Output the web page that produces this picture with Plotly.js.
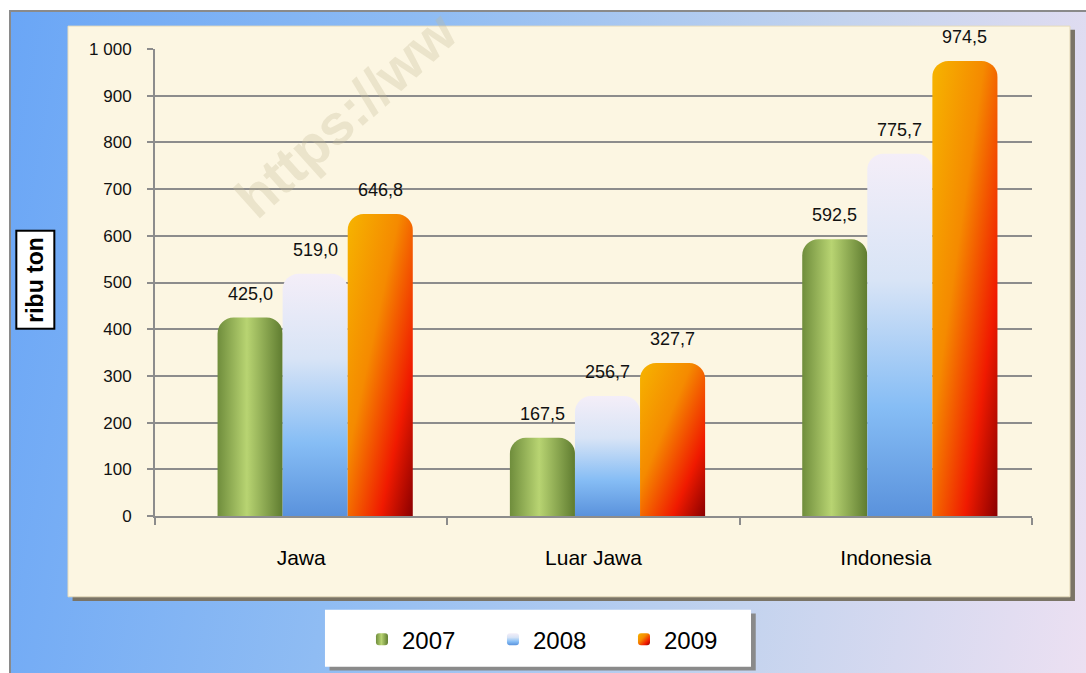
<!DOCTYPE html>
<html>
<head>
<meta charset="utf-8">
<script src="https://cdn.plot.ly/plotly-3.0.1.min.js"></script>
<style>
    html, body { margin: 0; padding: 0; background: #ffffff; }
    #frame {
        position: absolute; left: 9px; top: 10px; width: 1077px; height: 663px;
        border-left: 2px solid #8a8a8a; border-top: 2px solid #8a8a8a; box-sizing: border-box;
        background: linear-gradient(100deg, #6aa6f6 0%, #8fbcf3 35%, #c3d3ee 70%, #ece0f2 100%);
    }
    #chart { position: absolute; left: 0; top: 0; width: 1086px; height: 673px; }
</style>
</head>
<body>
<div id="frame"></div>
<div id="chart"></div>
<script>
const REGIONS = ['Jawa', 'Luar Jawa', 'Indonesia'];
const YEARS = ['2007', '2008', '2009'];
const VALUES_2007 = [425.0, 167.5, 592.5];
const VALUES_2008 = [519.0, 256.7, 775.7];
const VALUES_2009 = [646.8, 327.7, 974.5];
const Y_TICKS = [0, 100, 200, 300, 400, 500, 600, 700, 800, 900, 1000];

const SERIES = [VALUES_2007, VALUES_2008, VALUES_2009];
const COLORS = ['#93b55a', '#8fbcef', '#f0620e'];
// the bar groups in the original sit a little right of the category centre
const BAR_WIDTH = 0.2226;
const GROUP_START = -0.286;
const PX_PER_CATEGORY = 292;
const GRADIENTS = [
    { id: 'g2007', x2: 1, y2: 0, stops: [['0', '#6f8d3c'], ['0.45', '#b8d472'], ['1', '#5f7c30']] },
    { id: 'g2008', x2: 0, y2: 1, stops: [['0', '#f4eef8'], ['0.35', '#d8e4f6'], ['0.7', '#86bdf5'], ['1', '#5a92dc']] },
    { id: 'g2009', x2: 1, y2: 1, stops: [['0', '#f6b400'], ['0.4', '#f58a00'], ['0.75', '#f01a00'], ['1', '#8a0000']] },
];

const traces = SERIES.map((values, index) => ({
    type: 'bar',
    name: YEARS[index],
    x: REGIONS,
    y: values,
    width: BAR_WIDTH,
    offset: GROUP_START + index * BAR_WIDTH,
    marker: { color: COLORS[index], cornerradius: 16, line: { width: 0 } },
    hovertemplate: '%{x} ' + YEARS[index] + ': %{y:.1f}<extra></extra>',
}));

function formatValue(value) {
    return value.toFixed(1).replace('.', ',');
}

const valueLabels = [];
SERIES.forEach((values, index) => {
    const centreShift = (GROUP_START + (index + 0.5) * BAR_WIDTH) * PX_PER_CATEGORY;
    values.forEach((value, regionIndex) => {
        valueLabels.push({
            text: formatValue(value),
            x: REGIONS[regionIndex],
            y: value,
            xref: 'x', yref: 'y',
            xanchor: 'center', yanchor: 'bottom',
            xshift: centreShift, yshift: 12,
            showarrow: false,
            font: { size: 18, color: '#111111' },
        });
    });
});

const layout = {
    width: 1086,
    height: 673,
    margin: { l: 155, r: 54, t: 49, b: 156 },
    paper_bgcolor: 'rgba(0,0,0,0)',
    plot_bgcolor: 'rgba(0,0,0,0)',
    separators: ', ',
    barmode: 'group',
    font: { family: 'Liberation Sans, Arial, sans-serif', color: '#111111' },
    showlegend: true,
    legend: {
        orientation: 'h',
        x: 0.236, xanchor: 'left',
        y: -0.262, yanchor: 'middle',
        bgcolor: 'rgba(0,0,0,0)',
        font: { size: 24, color: '#000000' },
        entrywidth: 86,
        itemwidth: 30,
        traceorder: 'normal',
    },
    xaxis: {
        type: 'category',
        tickson: 'boundaries',
        ticks: 'outside',
        ticklen: 7,
        tickcolor: '#8c8c8c',
        tickwidth: 2,
        showline: true,
        linecolor: '#8c8c8c',
        linewidth: 2,
        ticklabelstandoff: 22,
        tickfont: { size: 21, color: '#000000' },
        showgrid: false,
    },
    yaxis: {
        range: [0, 1000],
        tickvals: Y_TICKS,
        separatethousands: true,
        tickformat: ',d',
        ticks: 'outside',
        ticklen: 6,
        tickcolor: '#8c8c8c',
        tickwidth: 2,
        showline: true,
        linecolor: '#8c8c8c',
        linewidth: 2,
        gridcolor: '#8c8c8c',
        gridwidth: 2,
        zeroline: false,
        ticklabelstandoff: 12,
        tickfont: { size: 17, color: '#111111' },
    },
    shapes: [
        // cream inner panel with a soft shadow
        { type: 'rect', xref: 'paper', yref: 'paper', layer: 'below',
          x0: -0.094, x1: 1.049, y0: -0.182, y1: 1.041,
          fillcolor: '#7a7466', line: { width: 0 } },
        { type: 'rect', xref: 'paper', yref: 'paper', layer: 'below',
          x0: -0.0992, x1: 1.0433, y0: -0.173, y1: 1.049,
          fillcolor: '#fcf6e2', line: { color: '#e6dcbc', width: 1 } },
        // legend box with shadow
        { type: 'rect', xref: 'paper', yref: 'paper', layer: 'below',
          x0: 0.199, x1: 0.685, y0: -0.331, y1: -0.209,
          fillcolor: '#8a8a8a', line: { width: 0 } },
        { type: 'rect', xref: 'paper', yref: 'paper', layer: 'below',
          x0: 0.1938, x1: 0.6796, y0: -0.3226, y1: -0.2009,
          fillcolor: '#ffffff', line: { width: 0 } },
    ],
    annotations: [
        { text: '<b>ribu ton</b>', xref: 'paper', yref: 'paper',
          x: -0.1368, y: 0.506, xanchor: 'center', yanchor: 'middle',
          textangle: -90, showarrow: false,
          font: { size: 23, color: '#000000' },
          bgcolor: '#ffffff', bordercolor: '#000000', borderwidth: 2, borderpad: 5 },
        { text: '<b>https://ww</b>', xref: 'paper', yref: 'paper',
          x: 0.2178, y: 0.859, xanchor: 'center', yanchor: 'middle',
          textangle: -42, showarrow: false,
          font: { size: 56, color: 'rgba(196,184,148,0.3)' } },
        ...valueLabels,
    ],
};

function applyGradients(graphDiv) {
    const svg = graphDiv.querySelector('svg.main-svg');
    const ns = 'http://www.w3.org/2000/svg';
    let defs = svg.querySelector('defs');
    if (!defs) {
        defs = document.createElementNS(ns, 'defs');
        svg.insertBefore(defs, svg.firstChild);
    }
    GRADIENTS.forEach((gradient) => {
        const element = document.createElementNS(ns, 'linearGradient');
        element.setAttribute('id', gradient.id);
        element.setAttribute('x1', '0');
        element.setAttribute('y1', '0');
        element.setAttribute('x2', String(gradient.x2));
        element.setAttribute('y2', String(gradient.y2));
        gradient.stops.forEach(([offset, color]) => {
            const stop = document.createElementNS(ns, 'stop');
            stop.setAttribute('offset', offset);
            stop.setAttribute('stop-color', color);
            element.appendChild(stop);
        });
        defs.appendChild(element);
    });
    graphDiv.querySelectorAll('.barlayer .trace.bars').forEach((traceGroup, index) => {
        traceGroup.querySelectorAll('.point path').forEach((path) => {
            path.style.fill = `url(#${GRADIENTS[index].id})`;
        });
    });
    graphDiv.querySelectorAll('.legend .traces').forEach((legendItem, index) => {
        legendItem.querySelectorAll('.legendpoints path').forEach((path) => {
            path.style.fill = `url(#${GRADIENTS[index].id})`;
        });
    });
}

Plotly.newPlot('chart', traces, layout, { displayModeBar: false, staticPlot: true })
    .then(applyGradients);
</script>
</body>
</html>
